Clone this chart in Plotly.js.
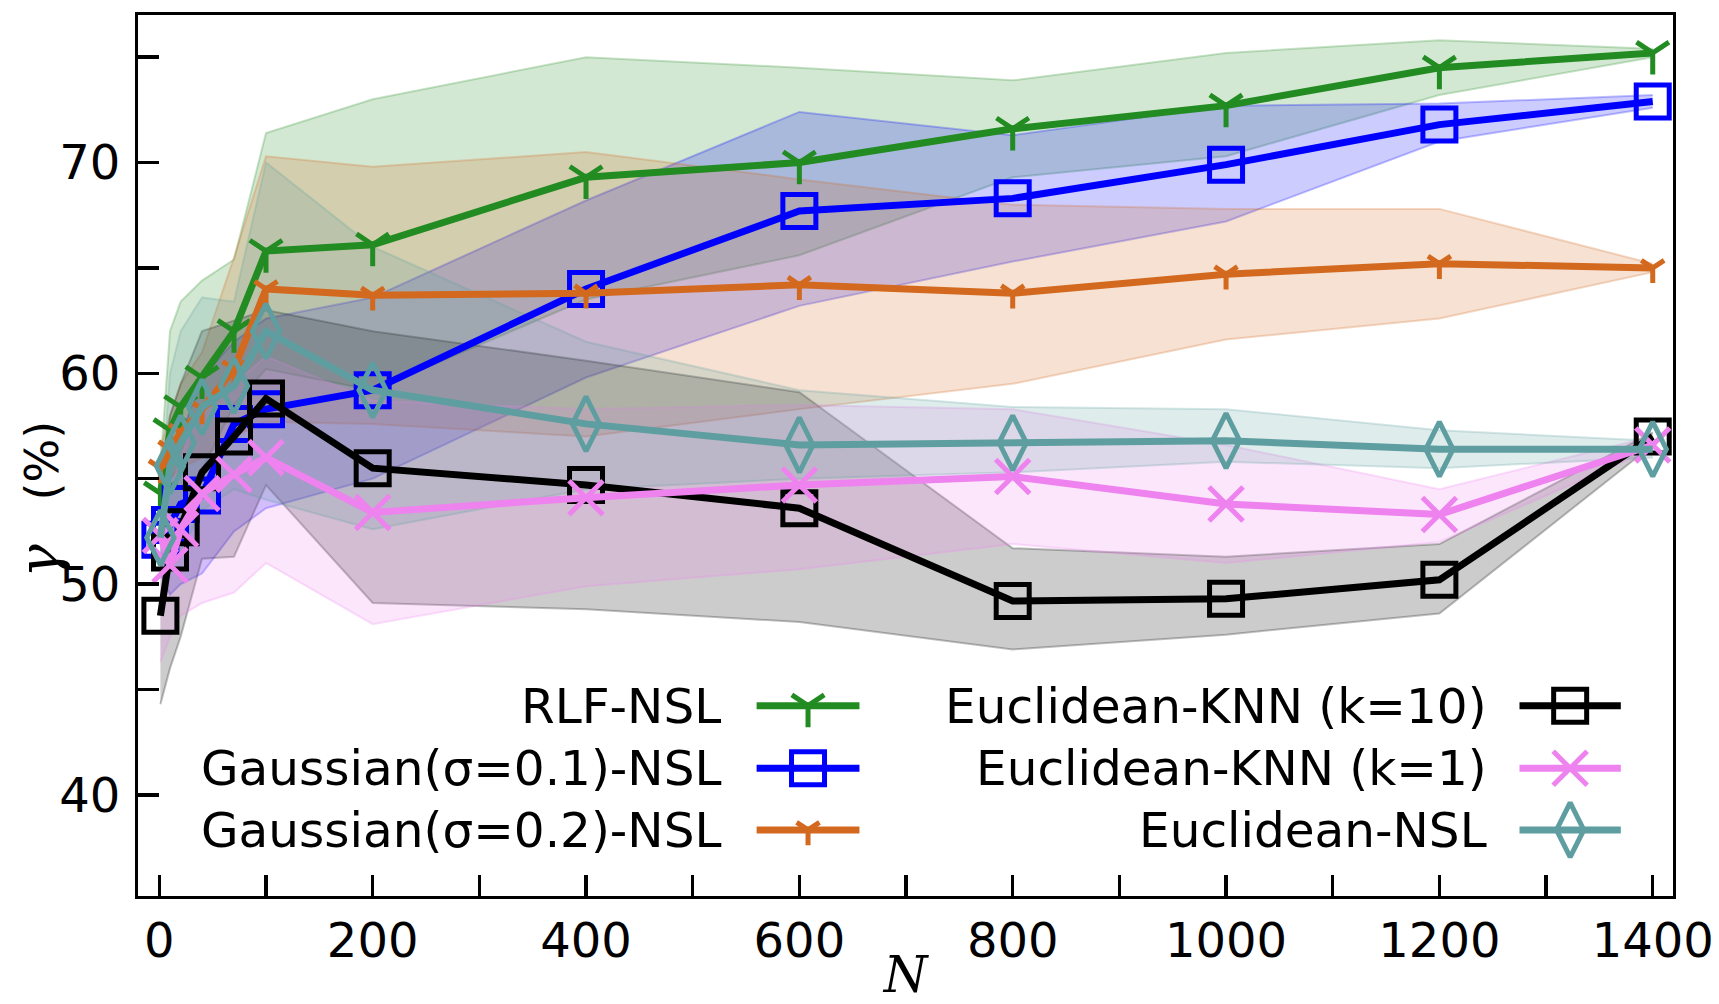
<!DOCTYPE html>
<html>
<head>
<meta charset="utf-8">
<script src="https://cdn.plot.ly/plotly-3.0.1.min.js"></script>
<style>
  html, body { margin: 0; padding: 0; background: #fff; }
  #chart { width: 1719px; height: 1004px; }
</style>
</head>
<body>
<div id="chart"></div>
<script>
// sample sizes on the x axis
var N = [1, 10, 20, 40, 70, 100, 200, 400, 600, 800, 1000, 1200, 1400];

// RLF-NSL
var rlfMean = [54.3, 57.3, 58.4, 59.8, 62.0, 65.8, 66.1, 69.3, 70.0, 71.6, 72.7, 74.5, 75.2];
var rlfLow  = [53.0, 52.8, 53.6, 55.4, 58.5, 60.2, 59.2, 63.5, 65.6, 69.3, 70.3, 73.2, 75.0];
var rlfHigh = [55.6, 62.0, 63.4, 64.4, 65.4, 71.4, 73.0, 75.0, 74.5, 73.9, 75.2, 75.8, 75.4];

// Gaussian(sigma=0.1)-NSL
var g1Mean = [52.1, 52.8, 53.8, 54.2, 57.6, 58.3, 59.2, 64.0, 67.7, 68.3, 69.9, 71.8, 72.9];
var g1Low  = [50.5, 49.5, 50.0, 50.5, 52.5, 53.6, 55.0, 59.8, 63.2, 65.3, 67.2, 71.0, 72.6];
var g1High = [53.6, 55.5, 57.0, 59.8, 61.5, 62.6, 63.6, 68.2, 72.4, 71.3, 72.7, 72.8, 73.2];

// Gaussian(sigma=0.2)-NSL
var g2Mean = [55.5, 56.4, 57.2, 58.3, 60.2, 64.0, 63.7, 63.8, 64.2, 63.8, 64.7, 65.2, 65.0];
var g2Low  = [54.5, 55.0, 55.5, 56.0, 57.0, 57.7, 57.6, 57.0, 58.3, 59.5, 61.6, 62.6, 64.8];
var g2High = [56.5, 58.0, 59.5, 61.0, 65.5, 70.3, 69.8, 70.5, 69.2, 68.0, 67.8, 67.8, 65.2];

// Euclidean-KNN (k=10)
var knn10Mean = [48.5, 51.5, 52.7, 55.3, 57.0, 58.8, 55.5, 54.7, 53.6, 49.2, 49.3, 50.2, 57.0];
var knn10Low  = [44.3, 46.0, 47.5, 51.2, 51.3, 54.7, 49.1, 48.8, 48.2, 46.9, 47.6, 48.6, 56.6];
var knn10High = [54.5, 58.0, 59.5, 62.0, 62.5, 63.0, 62.0, 60.6, 59.1, 51.7, 51.3, 51.9, 57.2];

// Euclidean-KNN (k=1)
var knn1Mean = [52.3, 50.9, 52.6, 54.3, 55.2, 56.0, 53.4, 54.1, 54.7, 55.1, 53.8, 53.3, 56.6];
var knn1Low  = [46.3, 47.5, 48.5, 49.1, 49.6, 51.0, 48.1, 49.9, 50.7, 51.9, 51.0, 52.0, 56.4];
var knn1High = [54.0, 54.5, 56.0, 58.5, 59.5, 60.8, 58.7, 58.3, 58.5, 58.3, 56.6, 54.5, 57.0];

// Euclidean-NSL
var eucMean = [52.2, 55.6, 56.7, 58.4, 59.4, 62.0, 59.2, 57.6, 56.6, 56.7, 56.8, 56.4, 56.4];
var eucLow  = [50.5, 51.0, 51.5, 53.5, 54.5, 54.0, 52.6, 54.5, 55.0, 55.3, 55.8, 55.5, 56.0];
var eucHigh = [54.0, 60.0, 62.0, 63.6, 63.4, 70.0, 66.0, 61.5, 59.2, 58.4, 58.3, 57.3, 56.8];

var xTicks = [0, 200, 400, 600, 800, 1000, 1200, 1400];
var yTicks = [40, 50, 60, 70];

var series = [
  {name: 'RLF-NSL', mean: rlfMean, lo: rlfLow, hi: rlfHigh, rgb: '34,139,34', symbol: 'y-down-open', size: 27},
  {name: 'Gaussian(σ=0.1)-NSL', mean: g1Mean, lo: g1Low, hi: g1High, rgb: '0,0,255', symbol: 'square-open', size: 33},
  {name: 'Gaussian(σ=0.2)-NSL', mean: g2Mean, lo: g2Low, hi: g2High, rgb: '210,105,30', symbol: 'y-down-open', size: 19},
  {name: 'Euclidean-KNN (k=10)', mean: knn10Mean, lo: knn10Low, hi: knn10High, rgb: '0,0,0', symbol: 'square-open', size: 33},
  {name: 'Euclidean-KNN (k=1)', mean: knn1Mean, lo: knn1Low, hi: knn1High, rgb: '238,130,238', symbol: 'x-thin-open', size: 34},
  {name: 'Euclidean-NSL', mean: eucMean, lo: eucLow, hi: eucHigh, rgb: '95,158,160', symbol: 'diamond-tall-open', size: 39}
];

var LW = 7, MLW = 5;
var data = [];

// bands first so every line sits on top of all fills
series.forEach(function (s) {
  data.push({
    type: 'scatter', mode: 'lines', x: N, y: s.lo,
    line: {color: 'rgba(' + s.rgb + ',0.25)', width: 2},
    hoverinfo: 'skip', showlegend: false
  });
  data.push({
    type: 'scatter', mode: 'lines', x: N, y: s.hi, fill: 'tonexty',
    fillcolor: 'rgba(' + s.rgb + ',0.2)',
    line: {color: 'rgba(' + s.rgb + ',0.25)', width: 2},
    hoverinfo: 'skip', showlegend: false
  });
});

series.forEach(function (s) {
  data.push({
    type: 'scatter', mode: 'lines+markers', x: N, y: s.mean, name: s.name,
    line: {color: 'rgb(' + s.rgb + ')', width: LW},
    marker: {symbol: s.symbol, size: s.size, color: 'rgb(' + s.rgb + ')',
             line: {color: 'rgb(' + s.rgb + ')', width: MLW}},
    showlegend: false
  });
});

// hand-made legend: text to the left of the handle, two columns
var legCols = [[0.403, 0.470, 0.381], [0.900, 0.966, 0.880]];
var legRows = [0.216, 0.145, 0.075];
var annotations = [];
series.forEach(function (s, i) {
  var c = legCols[Math.floor(i / 3)], r = legRows[i % 3];
  data.push({
    type: 'scatter', mode: 'lines', xaxis: 'x2', yaxis: 'y2',
    x: [c[0], c[1]], y: [r, r],
    line: {color: 'rgb(' + s.rgb + ')', width: LW},
    hoverinfo: 'skip', showlegend: false
  });
  data.push({
    type: 'scatter', mode: 'markers', xaxis: 'x2', yaxis: 'y2',
    x: [(c[0] + c[1]) / 2], y: [r],
    marker: {symbol: s.symbol, size: s.size, color: 'rgb(' + s.rgb + ')',
             line: {color: 'rgb(' + s.rgb + ')', width: MLW}},
    hoverinfo: 'skip', showlegend: false
  });
  annotations.push({
    xref: 'paper', yref: 'paper', x: c[2], y: r, xanchor: 'right', yanchor: 'middle',
    text: s.name, showarrow: false,
    font: {family: 'DejaVu Sans', size: 48.5, color: '#000'}
  });
});

// y title as an annotation so it can sit a bit below the axis centre
annotations.push({
  xref: 'paper', yref: 'paper', x: -0.065, y: 0.45, xanchor: 'center', yanchor: 'middle',
  textangle: -90, showarrow: false,
  text: '<span style="font-family:DejaVu Serif;font-size:56px"><i>γ</i></span>   (%)',
  font: {family: 'DejaVu Sans', size: 46, color: '#000'}
});

var axisCommon = {
  showline: true, mirror: true, linecolor: '#000', linewidth: 3,
  ticks: 'inside', ticklen: 21, tickwidth: 3.5, tickcolor: '#000',
  showgrid: false, zeroline: false,
  tickfont: {family: 'DejaVu Sans', size: 48, color: '#000'}
};

var layout = {
  width: 1719, height: 1004,
  margin: {l: 138, r: 46, t: 15, b: 108},
  paper_bgcolor: '#fff', plot_bgcolor: '#fff',
  showlegend: false,
  xaxis: Object.assign({}, axisCommon, {
    range: [-20, 1419], tickvals: xTicks, ticklabelstandoff: 0,
    minor: {dtick: 100, tick0: 0, ticks: 'inside', ticklen: 21, tickwidth: 3.5, tickcolor: '#000'},
    title: {text: '<i>N</i>', standoff: 2, font: {family: 'DejaVu Serif', size: 50, color: '#000'}}
  }),
  yaxis: Object.assign({}, axisCommon, {
    range: [35.2, 77], tickvals: yTicks, ticklabelstandoff: 5,
    minor: {dtick: 5, tick0: 0, ticks: 'inside', ticklen: 21, tickwidth: 3.5, tickcolor: '#000'}
  }),
  xaxis2: {overlaying: 'x', range: [0, 1], visible: false, fixedrange: true},
  yaxis2: {overlaying: 'y', range: [0, 1], visible: false, fixedrange: true},
  annotations: annotations
};

Plotly.newPlot('chart', data, layout, {staticPlot: true, displaylogo: false});
</script>
</body>
</html>
